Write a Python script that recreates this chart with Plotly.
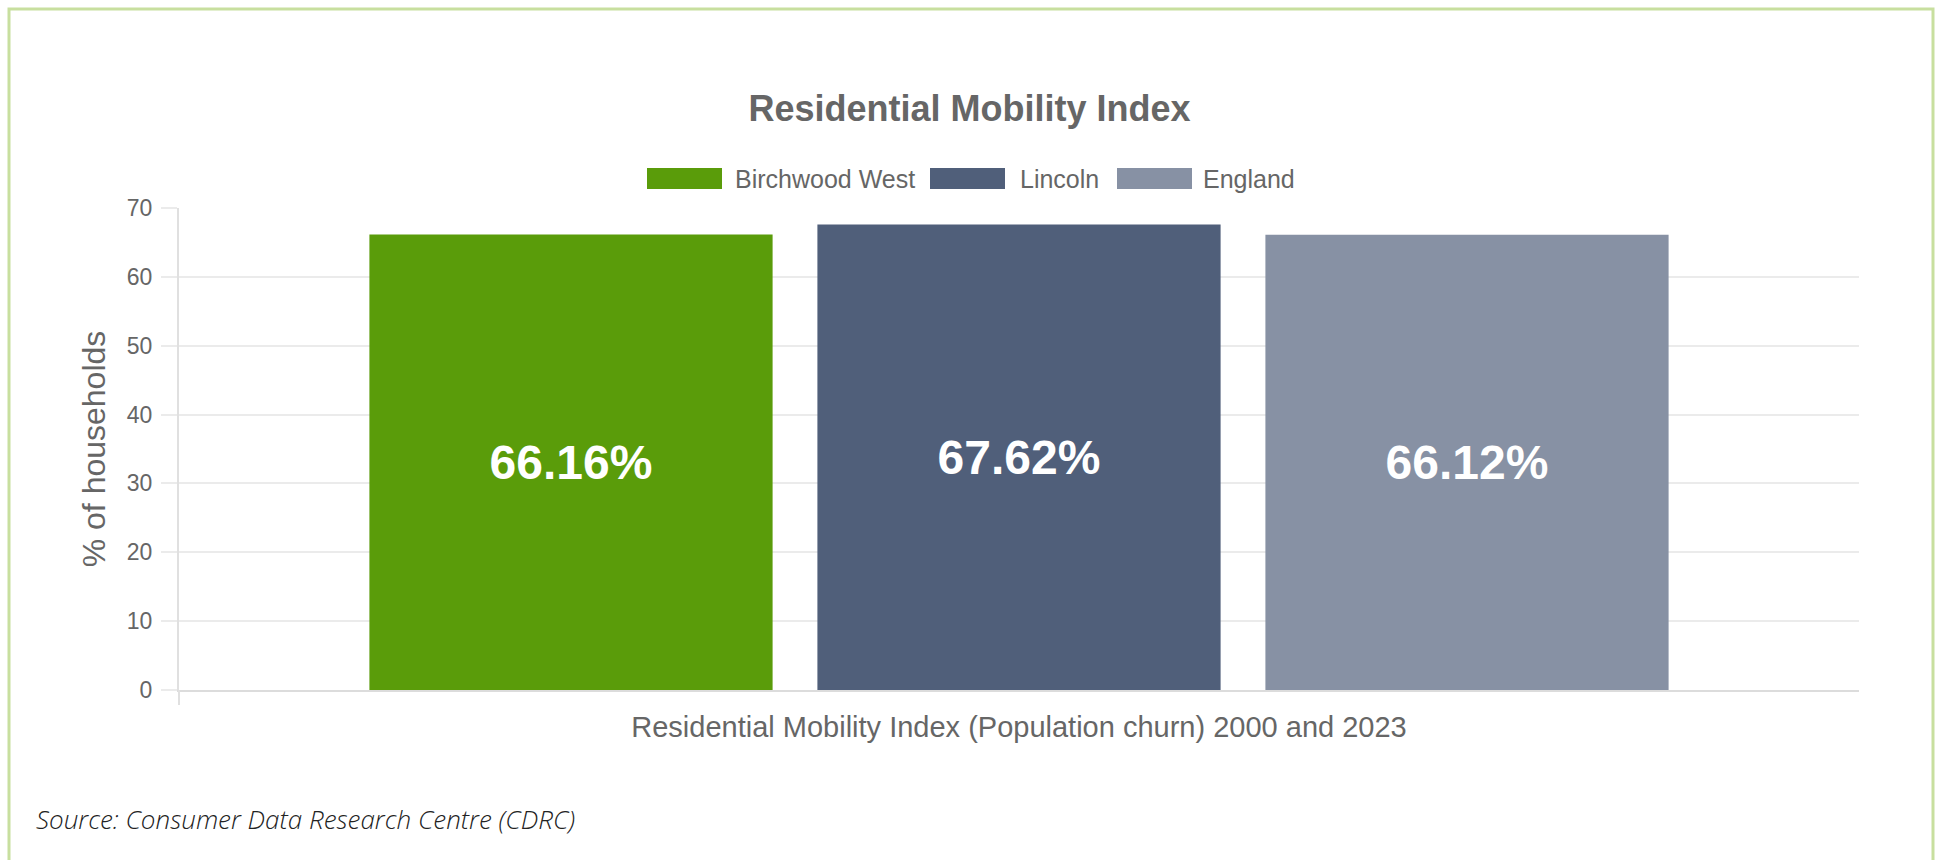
import plotly.graph_objects as go

# ---- data ----
category = ["Residential Mobility Index (Population churn) 2000 and 2023"]
series_names = ["Birchwood West", "Lincoln", "England"]
series_values = [66.16, 67.62, 66.12]
series_colors = ["#5a9c0a", "#505f7a", "#8791a4"]
y_ticks = [0, 10, 20, 30, 40, 50, 60, 70]

# ---- page geometry (pixels) ----
W, H = 1939, 860
PLOT_L, PLOT_R, PLOT_T, PLOT_B = 179, 1859, 208, 690
PW, PH = PLOT_R - PLOT_L, PLOT_B - PLOT_T

def px_x(x):
    return (x - PLOT_L) / PW

def px_y(y):
    return (PLOT_B - y) / PH

SANS = "Liberation Sans, Arial, Helvetica, sans-serif"
GREY = "#666666"
GRID = "#ebebeb"

fig = go.Figure()
for name, val, col in zip(series_names, series_values, series_colors):
    fig.add_trace(go.Bar(
        x=category,
        y=[val],
        name=name,
        marker=dict(color=col, line=dict(width=0)),
        text=[f"{val:.2f}%"],
        textposition="inside",
        insidetextanchor="middle",
        textangle=0,
        constraintext="none",
        textfont=dict(family=SANS, size=48, color="white", weight=700),
        showlegend=False,
        hoverinfo="skip",
    ))

shapes = []
annotations = []

# legend: wide colour boxes followed by the series name
legend_box_left = [647, 930, 1117]
legend_text_left = [733, 1018, 1201]
for name, col, bx, tx in zip(series_names, series_colors, legend_box_left, legend_text_left):
    shapes.append(dict(
        type="rect", xref="paper", yref="paper",
        x0=px_x(bx), x1=px_x(bx + 75), y0=px_y(189), y1=px_y(168),
        fillcolor=col, line=dict(width=0), layer="above",
    ))
    annotations.append(dict(
        text=name, xref="paper", yref="paper",
        x=px_x(tx), y=px_y(178.5), xanchor="left", yanchor="middle",
        showarrow=False, font=dict(family=SANS, size=25, color=GREY),
    ))

# short extension of the y-axis line below the baseline
shapes.append(dict(
    type="line", xref="paper", yref="paper",
    x0=0, x1=0, y0=0, y1=px_y(705),
    line=dict(color="#e0e0e0", width=2),
))

# light green frame around the card
shapes.append(dict(
    type="path", xref="paper", yref="paper",
    path=(f"M {px_x(9)} {px_y(H + 20)} L {px_x(9)} {px_y(9)} "
          f"L {px_x(1933)} {px_y(9)} L {px_x(1933)} {px_y(H + 20)}"),
    line=dict(color="#c8df9f", width=3),
))

annotations.append(dict(
    text="Source: Consumer Data Research Centre (CDRC)",
    xref="paper", yref="paper",
    x=px_x(34), y=px_y(819), xanchor="left", yanchor="middle",
    showarrow=False,
    font=dict(family="Open Sans, sans-serif", size=26, color="#222222",
              style="italic", weight=300),
))

fig.update_layout(
    width=W, height=H,
    margin=dict(l=PLOT_L, r=W - PLOT_R, t=PLOT_T, b=H - PLOT_B, pad=0),
    paper_bgcolor="white",
    plot_bgcolor="white",
    barmode="group",
    bargap=0.2,
    bargroupgap=0.1,
    title=dict(
        text="Residential Mobility Index",
        x=0.5, xanchor="center", xref="container",
        y=1 - 108 / H, yanchor="middle", yref="container",
        font=dict(family=SANS, size=36, color=GREY, weight=700),
    ),
    xaxis=dict(
        type="category",
        showgrid=False,
        showline=True, linecolor="#dcdcdc", linewidth=2,
        ticks="",
        ticklabelstandoff=10,
        tickfont=dict(family=SANS, size=29, color=GREY),
        fixedrange=True,
    ),
    yaxis=dict(
        range=[0, 70],
        tickvals=y_ticks,
        showgrid=True, gridcolor=GRID, gridwidth=1.5,
        zeroline=False,
        showline=True, linecolor="#e0e0e0", linewidth=2,
        ticks="outside", ticklen=16, tickcolor=GRID, tickwidth=1.5,
        ticklabelstandoff=4,
        tickfont=dict(family=SANS, size=23, color=GREY),
        title=dict(text="% of households", standoff=12,
                   font=dict(family=SANS, size=32, color=GREY)),
        fixedrange=True,
    ),
    shapes=shapes,
    annotations=annotations,
)

fig.write_html("out.html")
